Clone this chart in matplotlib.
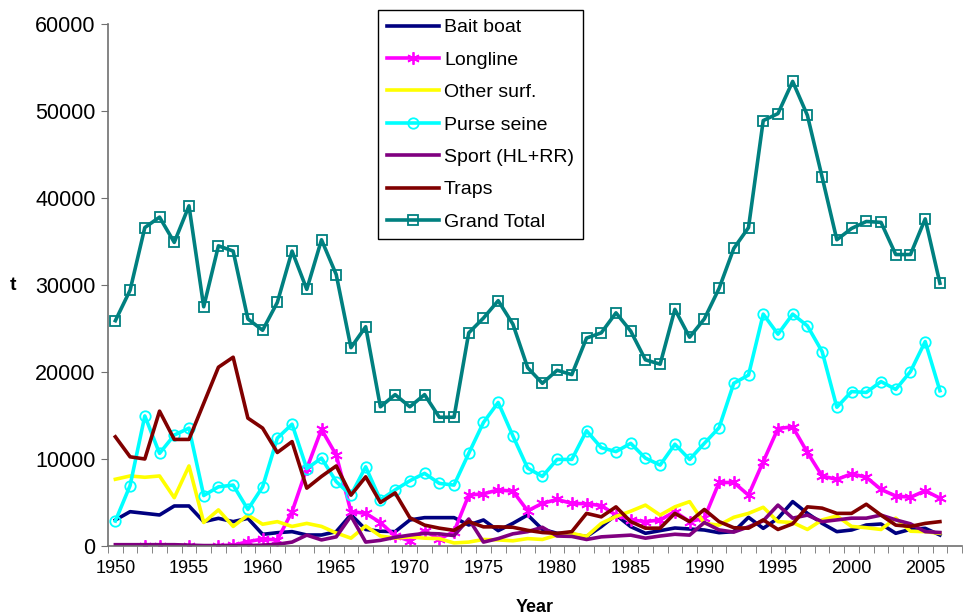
import numpy as np
import matplotlib
matplotlib.use('Agg')
import matplotlib.pyplot as plt

# catch (t) per gear, 1950-2006
years = list(range(1950, 2007))

bait_boat = [2990, 3945, 3755, 3565, 4600, 4600, 2800, 3180, 2800, 3180,
             1340, 1530, 1650, 1265, 1265, 1650, 3600, 1900, 1700, 1650,
             2990, 3260, 3260, 3260, 2415, 2990, 1765, 2605, 3565, 1915,
             1460, 1380, 1075, 2225, 3565, 2225, 1460, 1765, 2070, 1955,
             1840, 1530, 1650, 3300, 2030, 3180, 5100, 3755, 2605, 1650,
             1840, 2415, 2530, 1460, 1915, 2030, 1265]

longline = [np.nan, np.nan, 50, 50, np.nan, 30, np.nan, 40, 80, 500,
            800, 700, 3950, 8900, 13400, 10450, 3950, 3750, 2700, 1150,
            600, 1750, 800, 1650, 5850, 6000, 6450, 6300, 4050, 4900,
            5350, 4900, 4850, 4650, 3550, 3000, 2800, 3000, 3950, 2800,
            3200, 7300, 7300, 5850, 9700, 13500, 13700, 10750, 8050, 7650,
            8300, 7900, 6500, 5750, 5600, 6350, 5500]

other_surf = [7670, 8050, 7900, 8050, 5550, 9200, 2700, 4150, 2250, 3550,
              2500, 2800, 2250, 2600, 2250, 1500, 900, 2300, 1150, 900,
              1050, 900, 850, 350, 450, 750, 700, 600, 850, 750,
              1250, 1450, 1100, 2600, 3400, 4000, 4700, 3550, 4500, 5100,
              2600, 2400, 3300, 3750, 4450, 2800, 2700, 1900, 3000, 3450,
              2250, 2100, 1900, 3200, 1700, 1650, 1450]

purse_seine = [2875, 6950, 14950, 10650, 12750, 13550, 5800, 6800, 7000, 4200,
               6800, 12400, 14000, 8900, 10100, 7400, 5850, 9100, 5300, 6450,
               7500, 8350, 7200, 7000, 10650, 14200, 16500, 12650, 8950, 8000,
               9950, 9950, 13250, 11300, 10850, 11800, 10100, 9300, 11700, 9950,
               11800, 13600, 18700, 19650, 26650, 24350, 26650, 25300, 22350, 15950,
               17750, 17650, 18900, 18000, 20050, 23500, 17850]

sport = [150, 150, 150, 150, 150, 100, 50, 50, 50, 50,
         100, 200, 450, 1250, 700, 1050, 3450, 450, 650, 1000,
         1250, 1450, 1400, 1200, 3100, 450, 850, 1400, 1650, 2150,
         1150, 1100, 750, 1050, 1150, 1250, 900, 1150, 1350, 1250,
         2700, 1850, 1600, 2200, 2900, 4700, 3200, 3550, 2800, 3000,
         3200, 3200, 3550, 3000, 2550, 1650, 1550]

traps = [12550, 10250, 10000, 15500, 12250, 12250, 16400, 20550, 21700, 14700,
         13550, 10750, 12000, 6650, 8000, 9200, 5850, 7950, 5000, 6100,
         3250, 2400, 2050, 1800, 2800, 2200, 2200, 2150, 1800, 1550,
         1450, 1650, 3750, 3350, 4500, 2800, 2050, 2050, 3750, 2800,
         4200, 2800, 2100, 2050, 3000, 1900, 2550, 4500, 4350, 3750,
         3750, 4800, 3550, 2400, 2250, 2600, 2800]

grand_total = [25900, 29400, 36600, 37800, 34900, 39100, 27500, 34500, 33900, 26100,
               24800, 28000, 33900, 29500, 35200, 31200, 22800, 25200, 16000, 17400,
               16000, 17400, 14800, 14800, 24500, 26200, 28200, 25500, 20500, 18700,
               20200, 19700, 23900, 24500, 26800, 24700, 21400, 20900, 27200, 24000,
               26100, 29600, 34200, 36600, 48900, 49700, 53400, 49500, 42400, 35200,
               36500, 37300, 37200, 33500, 33500, 37600, 30200]

plt.rcParams['font.family'] = ['Liberation Sans', 'DejaVu Sans']

fig = plt.figure(figsize=(9.68, 6.16), dpi=100)
ax = fig.add_axes([108 / 968, 1 - 546 / 616, 854 / 968, 522 / 616])

star = (6, 2, 0)
series = [
    ('Bait boat', bait_boat, '#000080', None, 0),
    ('Longline', longline, '#FF00FF', star, 9),
    ('Other surf.', other_surf, '#FFFF00', None, 0),
    ('Purse seine', purse_seine, '#00FFFF', 'o', 7.5),
    ('Sport (HL+RR)', sport, '#800080', None, 0),
    ('Traps', traps, '#800000', None, 0),
    ('Grand Total', grand_total, '#008080', 's', 7),
]

for name, vals, col, mk, ms in series:
    ax.plot(years, vals, color=col, lw=2.6, marker=mk, ms=ms,
            mfc='none', mec=col, mew=1.3, label=name)

ax.set_xlim(1949.5, 2007.5)
ax.set_ylim(0, 60000)
ax.set_yticks(range(0, 60001, 10000))
ax.set_xticks(range(1950, 2007, 5))
ax.set_xticks(np.arange(1949.5, 2008, 1), minor=True)
ax.tick_params(axis='x', which='major', length=0, pad=10, labelsize=13)
ax.tick_params(axis='x', which='minor', length=5, color='#707070')
ax.tick_params(axis='y', length=5, color='#707070', labelsize=15.5, pad=4)

for s in ['top', 'right']:
    ax.spines[s].set_visible(False)
for s in ['left', 'bottom']:
    ax.spines[s].set_color('#707070')
    ax.spines[s].set_linewidth(1.2)

ax.set_xlabel('Year', fontsize=13, fontweight='bold', labelpad=16)
ax.set_ylabel('t', fontsize=14, fontweight='bold', rotation=0, labelpad=16, va='center')

leg = ax.legend(loc='upper left', bbox_to_anchor=(378 / 968, 1 - 10 / 616),
                bbox_transform=fig.transFigure, fontsize=14, numpoints=1,
                handlelength=2.7, handletextpad=0.25, labelspacing=0.76,
                borderpad=0.45, borderaxespad=0, fancybox=False, framealpha=1)
leg.get_frame().set_edgecolor('black')
leg.get_frame().set_linewidth(1.0)

plt.savefig('out.png', dpi=100)
